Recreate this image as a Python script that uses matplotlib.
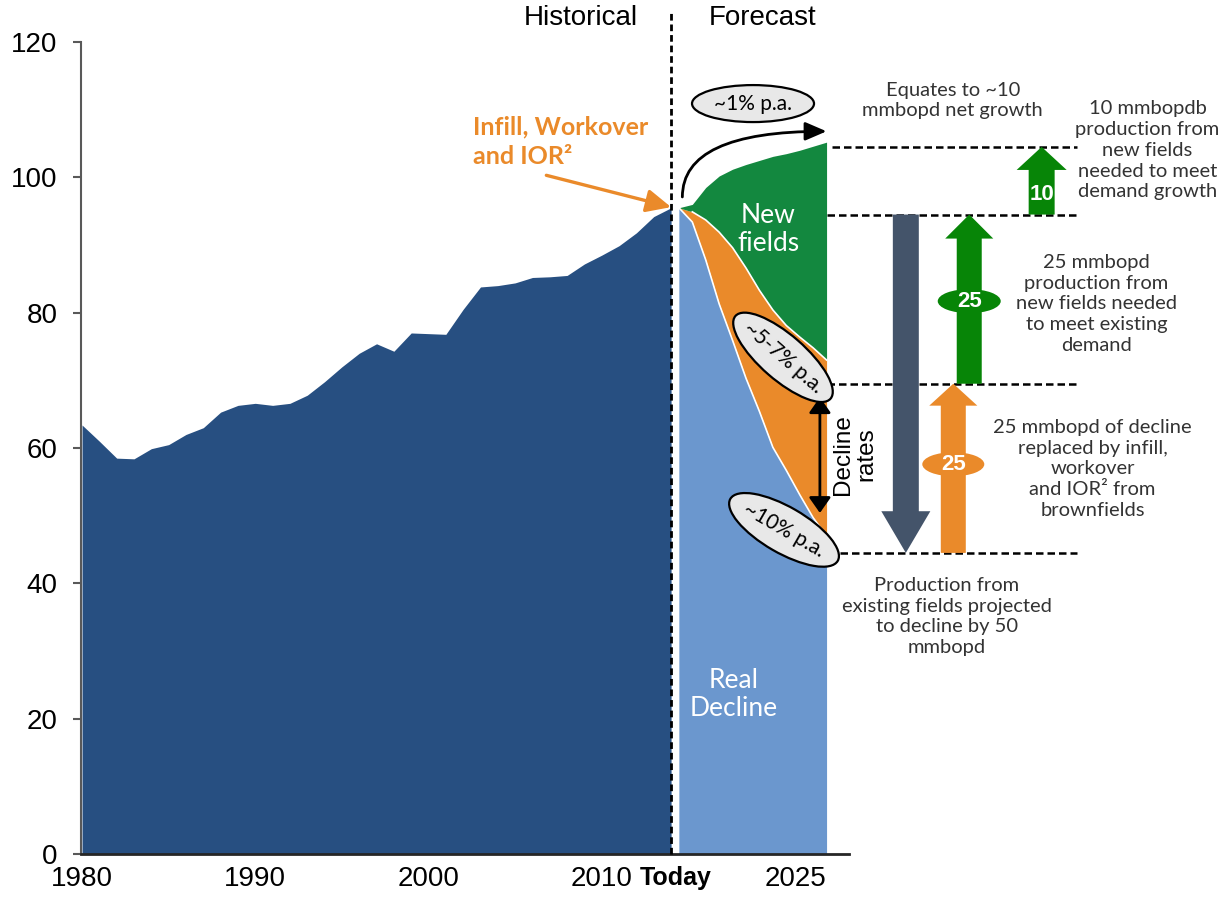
import numpy as np
import matplotlib
matplotlib.use("Agg")
import matplotlib.pyplot as plt
from matplotlib import transforms
from matplotlib.patches import Ellipse, FancyArrowPatch, ArrowStyle


# world liquids production, mmbopd
HIST_YEARS = list(range(1980, 2015))
HIST_PRODUCTION = [63.4, 61.0, 58.5, 58.4, 59.9, 60.5, 62.0, 63.0, 65.3, 66.3,
                   66.6, 66.3, 66.6, 67.8, 69.8, 72.0, 74.0, 75.4, 74.3, 77.0,
                   76.9, 76.8, 80.5, 83.8, 84.0, 84.4, 85.2, 85.3, 85.5, 87.2,
                   88.5, 89.9, 91.8, 94.2, 95.5]

FC_YEARS = list(range(2014, 2026))
FC_EXISTING = [95.5, 93.4, 87.8, 81.3, 75.9, 70.3, 65.4, 60.1, 56.7, 53.1, 49.7, 47.0]
FC_INFILL = [0.0, 1.5, 5.9, 10.6, 13.7, 16.3, 17.9, 20.3, 21.4, 23.3, 25.1, 26.0]
FC_NEW = [0.0, 1.1, 4.8, 8.3, 11.6, 15.3, 19.2, 22.7, 25.4, 27.6, 29.8, 32.2]

# bridge from existing-field decline to demand
BRIDGE_BASE = 44.5
DECLINE = 50
INFILL_GAIN = 25
NEW_FOR_EXISTING = 25
NEW_FOR_GROWTH = 10

Y_TICKS = [0, 20, 40, 60, 80, 100, 120]
TODAY = 2014

# forecast years are drawn on a compressed stretch of the axis
FC_X0 = 2014.45
FC_STEP = 0.775

DARK_BLUE = "#274F81"
LIGHT_BLUE = "#6B97CE"
ORANGE = "#EA8A2A"
GREEN_AREA = "#13883F"
GREEN = "#078507"
SLATE = "#44546A"
PILL_GREY = "#E8E8E8"
NOTE = "#333333"

LABEL_FONT = "Liberation Sans"
NOTE_FONT = "Lato"


def fx(year):
    return FC_X0 + (np.asarray(year, dtype=float) - TODAY) * FC_STEP


fig = plt.figure(figsize=(12.26, 9.01), dpi=100)
ax = fig.add_axes([81 / 1226, 47 / 901, 768 / 1226, 812 / 901])

# historical production
ax.fill_between(HIST_YEARS, HIST_PRODUCTION, color=DARK_BLUE, lw=0, zorder=1)

# forecast stack
xf = fx(FC_YEARS)
existing = np.array(FC_EXISTING)
infill_top = existing + np.array(FC_INFILL)
total = infill_top + np.array(FC_NEW)
ax.fill_between(xf, 0, existing, color=LIGHT_BLUE, lw=0, zorder=1)
ax.fill_between(xf, existing, infill_top, color=ORANGE, lw=0, zorder=1)
ax.fill_between(xf, infill_top, total, color=GREEN_AREA, lw=0, zorder=1)
ax.plot(xf, existing, color="white", lw=1.2, zorder=2)
ax.plot(xf[1:], infill_top[1:], color="white", lw=1.2, zorder=2)

ax.text(2019.6, 92.3, "New\nfields", color="white", fontsize=19, family=NOTE_FONT,
        ha="center", va="center", linespacing=1.15, zorder=3)
ax.text(2017.6, 23.5, "Real\nDecline", color="white", fontsize=19, family=NOTE_FONT,
        ha="center", va="center", linespacing=1.15, zorder=3)

# today divider
ax.plot([TODAY, TODAY], [0, 124.3], color="black", lw=2, ls=(0, (2.4, 1.4)),
        clip_on=False, zorder=4)
ax.text(2008.8, 123.6, "Historical", fontsize=20, family=LABEL_FONT, ha="center", va="center")
ax.text(2019.3, 123.6, "Forecast", fontsize=20, family=LABEL_FONT, ha="center", va="center")

# infill callout
ax.text(2002.54, 105.3, "Infill, Workover\nand IOR²", color=ORANGE, fontsize=18,
        fontweight="bold", family=NOTE_FONT, ha="left", va="center", linespacing=1.32)
ax.add_patch(FancyArrowPatch((2006.8, 100.3), (TODAY, 95.6),
                             arrowstyle=ArrowStyle("-|>", head_length=0.75, head_width=0.35),
                             mutation_scale=20, color=ORANGE, lw=2.4,
                             shrinkA=0, shrinkB=0, clip_on=False, zorder=5))


def pill(x, y, w, h, angle=0.0, **kw):
    # ellipse sized in inches, anchored at a data point
    tr = fig.dpi_scale_trans + transforms.ScaledTranslation(x, y, ax.transData)
    ax.add_artist(Ellipse((0, 0), w, h, angle=angle, transform=tr, clip_on=False, **kw))


# growth arrow and rate pills
ax.add_patch(FancyArrowPatch((fx(TODAY) + 0.2, 97.1), (fx(2025), 106.8),
                             connectionstyle="angle3,angleA=90,angleB=0",
                             arrowstyle=ArrowStyle("-|>", head_length=0.65, head_width=0.28),
                             mutation_scale=20, color="black", lw=2,
                             shrinkA=0, shrinkB=0, clip_on=False, zorder=5))
pill(2018.73, 110.9, 1.22, 0.37, facecolor=PILL_GREY, edgecolor="black", lw=1.6, zorder=6)
ax.text(2018.73, 110.9, "~1% p.a.", fontsize=15, family=NOTE_FONT, ha="center",
        va="center", zorder=7)

pill(2020.46, 73.4, 1.26, 0.45, angle=-41, facecolor=PILL_GREY, edgecolor="black",
     lw=1.6, zorder=6)
ax.text(2020.46, 73.4, "~5-7% p.a.", fontsize=15, family=NOTE_FONT, rotation=-41,
        rotation_mode="anchor", ha="center", va="center", zorder=7)
pill(2020.52, 47.9, 1.24, 0.46, angle=-30, facecolor=PILL_GREY, edgecolor="black",
     lw=1.6, zorder=6)
ax.text(2020.52, 47.9, "~10% p.a.", fontsize=15, family=NOTE_FONT, rotation=-30,
        rotation_mode="anchor", ha="center", va="center", zorder=7)

ax.add_patch(FancyArrowPatch((2022.59, 67.5), (2022.59, 50.4),
                             arrowstyle=ArrowStyle("<|-|>", head_length=0.47, head_width=0.33),
                             mutation_scale=20, color="black", lw=2,
                             shrinkA=0, shrinkB=0, clip_on=False, zorder=5))
ax.text(2024.6, 59.1, "Decline\nrates", fontsize=17.5, family=LABEL_FONT, rotation=90,
        ha="center", va="center", multialignment="center", linespacing=1.1)

# bridge levels
lvl_existing = BRIDGE_BASE
lvl_infill = lvl_existing + INFILL_GAIN
lvl_today = lvl_infill + NEW_FOR_EXISTING
lvl_demand = lvl_today + NEW_FOR_GROWTH
dash = dict(color="black", lw=1.8, ls=(0, (3, 1.6)), clip_on=False, zorder=2)
ax.plot([2023.3, 2037.45], [lvl_demand] * 2, **dash)
ax.plot([2023.0, 2037.45], [lvl_today] * 2, **dash)
ax.plot([2023.0, 2037.45], [lvl_infill] * 2, **dash)
ax.plot([2023.75, 2037.45], [lvl_existing] * 2, **dash)


def block_arrow(x, y0, y1, color, tail, head_w, head_l):
    style = ArrowStyle.Simple(head_length=head_l, head_width=head_w, tail_width=tail)
    ax.add_patch(FancyArrowPatch((x, y0), (x, y1), arrowstyle=style, mutation_scale=1,
                                 color=color, lw=0, shrinkA=0, shrinkB=0,
                                 clip_on=False, zorder=4))


block_arrow(2027.55, lvl_today, lvl_today - DECLINE, SLATE, 18.7, 35.3, 30)
block_arrow(2030.29, lvl_existing, lvl_infill, ORANGE, 18, 34.6, 15.8)
block_arrow(2031.21, lvl_infill, lvl_today, GREEN, 18, 34.6, 17.3)
block_arrow(2035.39, lvl_today, lvl_demand, GREEN, 18.7, 36, 16.6)

pill(2030.29, lvl_existing + INFILL_GAIN / 2 + 0.6, 0.62, 0.24, facecolor=ORANGE, lw=0, zorder=5)
ax.text(2030.29, lvl_existing + INFILL_GAIN / 2 + 0.6, f"{INFILL_GAIN}", color="white",
        fontsize=16, fontweight="bold", family=LABEL_FONT, ha="center", va="center", zorder=6)
pill(2031.21, lvl_infill + NEW_FOR_EXISTING / 2 - 0.3, 0.63, 0.24, facecolor=GREEN, lw=0, zorder=5)
ax.text(2031.21, lvl_infill + NEW_FOR_EXISTING / 2 - 0.3, f"{NEW_FOR_EXISTING}", color="white",
        fontsize=16, fontweight="bold", family=LABEL_FONT, ha="center", va="center", zorder=6)
ax.text(2035.39, lvl_today + 3.0, f"{NEW_FOR_GROWTH}", color="white", fontsize=16,
        fontweight="bold", family=LABEL_FONT, ha="center", va="center", zorder=6)

note = dict(fontsize=14.5, family=NOTE_FONT, color=NOTE, ha="center", va="center",
            multialignment="center", linespacing=1.27)
ax.text(2030.26, 111.35, "Equates to ~10\nmmbopd net growth", **note)
ax.text(2041.5, 104.0, "10 mmbopdb\nproduction from\nnew fields\nneeded to meet\ndemand growth", **note)
ax.text(2038.56, 81.3, "25 mmbopd\nproduction from\nnew fields needed\nto meet existing\ndemand", **note)
ax.text(2038.33, 56.9, "25 mmbopd of decline\nreplaced by infill,\nworkover\nand IOR² from\nbrownfields", **note)
ax.text(2029.91, 35.1, "Production from\nexisting fields projected\nto decline by 50\nmmbopd", **note)

# axes styling
for side in ("top", "right"):
    ax.spines[side].set_visible(False)
ax.spines["left"].set_color("#595959")
ax.spines["left"].set_linewidth(1.5)
ax.spines["bottom"].set_color("#262626")
ax.spines["bottom"].set_linewidth(2)

ax.set_yticks(Y_TICKS)
ax.tick_params(axis="y", direction="out", length=6, width=1.5, color="#595959", pad=11)
x_ticks = [1980, 1990, 2000, 2010, TODAY + 0.25, float(fx(2025))]
ax.set_xticks(x_ticks)
ax.set_xticklabels(["1980", "1990", "2000", "2010", "Today", "2025"])
ax.tick_params(axis="x", length=0, pad=9)
for lab in ax.get_xticklabels() + ax.get_yticklabels():
    lab.set_fontfamily(LABEL_FONT)
    lab.set_fontsize(20)
ax.get_xticklabels()[4].set_fontweight("bold")
ax.get_xticklabels()[4].set_fontsize(18)
ax.get_xticklabels()[5].set_horizontalalignment("right")

ax.set_xlim(1979.94, 2024.27)
ax.set_ylim(0, 120)

fig.savefig("out.png", dpi=100)
